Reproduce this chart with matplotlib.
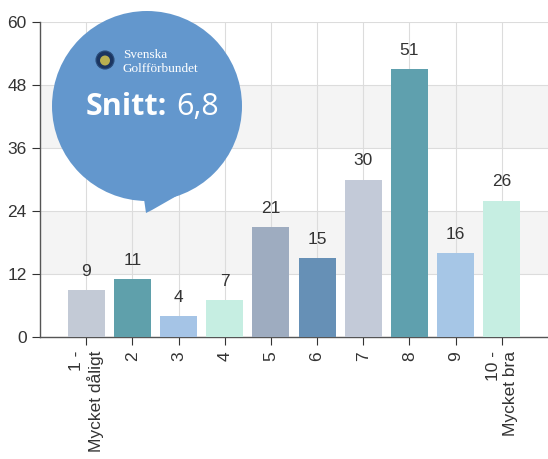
import matplotlib
matplotlib.use("Agg")
import matplotlib.pyplot as plt
from matplotlib.patches import Circle, Polygon

# data
categories = ["1 -\nMycket dåligt", "2", "3", "4", "5", "6", "7", "8", "9", "10 -\nMycket bra"]
counts = [9, 11, 4, 7, 21, 15, 30, 51, 16, 26]
bar_colors = ["#c3cad6", "#5fa0ab", "#a5c4e6", "#c6eee2", "#9eacc0",
              "#6690b6", "#c3cad8", "#5fa0ae", "#a6c6e6", "#c6eee2"]
y_ticks = [0, 12, 24, 36, 48, 60]
avg_label = "6,8"

plt.rcParams['font.family'] = ['Liberation Sans', 'DejaVu Sans']

fig = plt.figure(figsize=(5.48, 4.59), dpi=100)
ax = fig.add_axes([40 / 548, 122 / 459, 508 / 548, 315 / 459])

x = list(range(1, len(counts) + 1))

# alternating bands
for i in range(len(y_ticks) - 1):
    if i % 2 == 1:
        ax.axhspan(y_ticks[i], y_ticks[i + 1], color="#f4f4f4", zorder=0, lw=0)

ax.set_axisbelow(True)
ax.grid(True, color="#dcdcdc", lw=0.8)

bars = ax.bar(x, counts, width=0.8, color=bar_colors, zorder=3)
for xi, v in zip(x, counts):
    ax.annotate(str(v), (xi, v), xytext=(0, 8), textcoords="offset points",
                ha="center", va="bottom", fontsize=12.5, color="#333333")

ax.set_xlim(0, 11)
ax.set_ylim(0, 60)
ax.set_yticks(y_ticks)
ax.set_xticks(x)
ax.set_xticklabels(categories, rotation=90, ha="center", va="top",
                   multialignment="right")
ax.tick_params(axis="both", labelsize=12.5, colors="#333333", length=6, width=0.8)
ax.tick_params(axis="x", pad=4)
for s in ["top", "right"]:
    ax.spines[s].set_visible(False)
for s in ["left", "bottom"]:
    ax.spines[s].set_color("#555555")
    ax.spines[s].set_linewidth(1.0)

# speech bubble (inches)
tr = fig.dpi_scale_trans
H = 4.59
bubble_col = "#6397cd"
fig.patches.append(Circle((1.47, H - 1.06), 0.95, transform=tr,
                          facecolor=bubble_col, edgecolor="none", zorder=10))
fig.patches.append(Polygon([(1.43, H - 1.92), (1.46, H - 2.13), (1.52, H - 2.10),
                            (1.80, H - 1.94)], closed=True, transform=tr,
                           facecolor=bubble_col, edgecolor="none", zorder=10))

# logo
fig.patches.append(Circle((1.05, H - 0.60), 0.09, transform=tr,
                          facecolor="#1b3560", edgecolor="#2a4d7a", lw=0.8, zorder=11))
fig.patches.append(Circle((1.05, H - 0.605), 0.05, transform=tr,
                          facecolor="#b9b050", edgecolor="none", zorder=12))
fig.text(1.23 / 5.48, (H - 0.55) / H, "Svenska", transform=fig.transFigure,
         fontsize=9.5, family="Liberation Serif", color="white", va="center", ha="left",
         zorder=12)
fig.text(1.23 / 5.48, (H - 0.69) / H, "Golfförbundet", transform=fig.transFigure,
         fontsize=9.5, family="Liberation Serif", color="white", va="center", ha="left",
         zorder=12)

t1 = fig.text(0.86 / 5.48, (H - 1.15) / H, "Snitt:", fontsize=22, fontweight="bold",
              family="Open Sans", color="white", va="baseline", ha="left", zorder=12)
fig.canvas.draw()
bb = t1.get_window_extent()
fig.text((bb.x1 + 9) / fig.dpi / 5.48, (H - 1.15) / H, avg_label, fontsize=22,
         family="Open Sans", color="white", va="baseline", ha="left",
         zorder=12)

fig.savefig("out.png", dpi=100)
